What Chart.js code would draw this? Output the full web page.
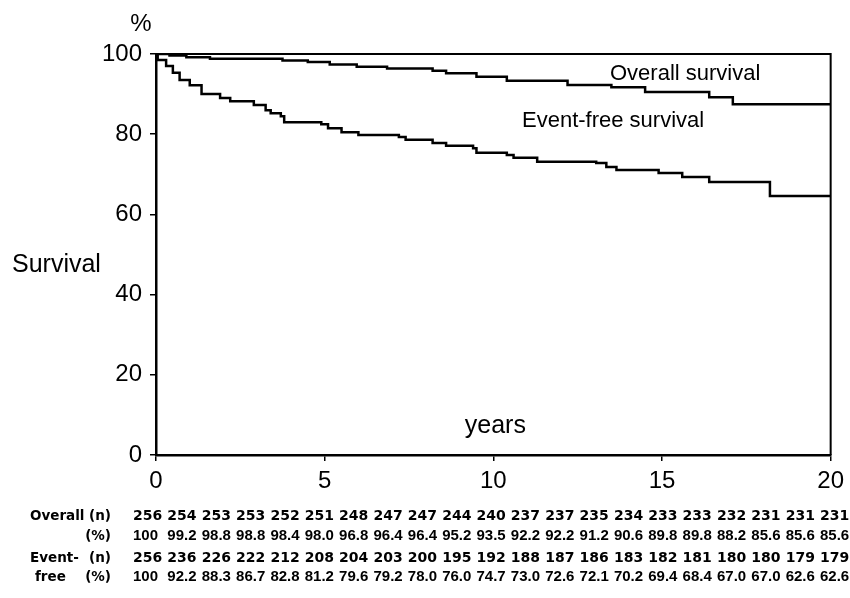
<!DOCTYPE html>
<html><head><meta charset="utf-8">
<script src="https://cdn.jsdelivr.net/npm/chart.js@4.4.0/dist/chart.umd.min.js"></script>
<style>html,body{margin:0;padding:0;background:#fff}#wrap{width:850px;height:598px;position:relative}</style>
</head><body><div id="wrap"><canvas id="c" width="850" height="598"></canvas></div>
<script>
// ---- data ----
const xTicks = [0, 5, 10, 15, 20];
const yTicks = [0, 20, 40, 60, 80, 100];
const overallTimes = [0, 0.4, 0.9, 1.6, 3.75, 4.5, 5.15, 5.95, 6.85, 8.2, 8.6, 9.5, 10.4, 12.2, 13.5, 14.5, 16.4, 17.1, 20];
const overallSurv  = [100, 99.6, 99.2, 98.8, 98.4, 98.0, 97.4, 96.8, 96.4, 95.8, 95.2, 94.3, 93.3, 92.3, 91.7, 90.5, 89.2, 87.5, 87.5];
const efsTimes = [0, 0.05, 0.3, 0.5, 0.7, 1.0, 1.35, 1.9, 2.2, 2.9, 3.25, 3.4, 3.7, 3.8, 4.9, 5.1, 5.5, 6.0, 7.2, 7.4, 8.2, 8.6, 9.4, 9.5, 10.4, 10.6, 11.3, 13.05, 13.35, 13.65, 14.9, 15.6, 16.4, 18.2, 20];
const efsSurv  = [100, 98.5, 97.0, 95.3, 93.5, 92.2, 90.0, 89.0, 88.2, 87.3, 86.0, 85.2, 84.5, 83.0, 82.5, 81.5, 80.5, 79.8, 79.3, 78.6, 77.8, 77.1, 76.5, 75.4, 74.8, 74.1, 73.1, 72.8, 71.8, 71.1, 70.3, 69.3, 68.1, 64.6, 64.6];
const overallN   = ["256","254","253","253","252","251","248","247","247","244","240","237","237","235","234","233","233","232","231","231","231"];
const overallPct = ["100","99.2","98.8","98.8","98.4","98.0","96.8","96.4","96.4","95.2","93.5","92.2","92.2","91.2","90.6","89.8","89.8","88.2","85.6","85.6","85.6"];
const efsN   = ["256","236","226","222","212","208","204","203","200","195","192","188","187","186","183","182","181","180","180","179","179"];
const efsPct = ["100","92.2","88.3","86.7","82.8","81.2","79.6","79.2","78.0","76.0","74.7","73.0","72.6","72.1","70.2","69.4","68.4","67.0","67.0","62.6","62.6"];

const toPts = (t, v) => t.map((x, i) => ({x: x, y: v[i]}));
const SANS = "'Liberation Sans', Arial, Helvetica, sans-serif";
const DV = "'DejaVu Sans', sans-serif";

const overlay = {
  id: 'overlay',
  afterDatasetsDraw(chart) {
    const ctx = chart.ctx, a = chart.chartArea, xs = chart.scales.x;
    ctx.save();
    // top & right frame
    ctx.strokeStyle = '#000'; ctx.lineWidth = 2;
    ctx.beginPath();
    ctx.moveTo(a.left, a.top); ctx.lineTo(a.right, a.top); ctx.lineTo(a.right, a.bottom);
    ctx.stroke();
    ctx.fillStyle = '#000';
    ctx.textBaseline = 'alphabetic';
    // axis annotations
    ctx.font = '24px ' + SANS; ctx.textAlign = 'center';
    ctx.fillText('%', 141, 31);
    ctx.font = '25px ' + SANS; ctx.textAlign = 'left';
    ctx.fillText('Survival', 12, 272);
    ctx.textAlign = 'center';
    ctx.fillText('years', xs.getPixelForValue(10) + 2, 433);
    ctx.font = '22px ' + SANS; ctx.textAlign = 'left';
    ctx.fillText('Overall survival', 610, 80);
    ctx.fillText('Event-free survival', 522, 127);
    // table
    const rows = [
      {l: 'Overall', lx: 30, u: '(n)', vals: overallN, y: 520, f: 'bold 14px ' + DV},
      {l: '', lx: 30, u: '(%)', vals: overallPct, y: 540, f: 'bold 15px ' + SANS},
      {l: 'Event-', lx: 30, u: '(n)', vals: efsN, y: 562, f: 'bold 14px ' + DV},
      {l: 'free', lx: 35, u: '(%)', vals: efsPct, y: 581, f: 'bold 15px ' + SANS}
    ];
    const step = (848 - 133 - 28) / (overallN.length - 1);
    rows.forEach(r => {
      ctx.font = 'bold 13.5px ' + DV;
      ctx.textAlign = 'left';
      if (r.l) ctx.fillText(r.l, r.lx, r.y);
      ctx.textAlign = 'right';
      ctx.fillText(r.u, 111, r.y);
      ctx.font = r.f; ctx.textAlign = 'left';
      r.vals.forEach((v, i) => ctx.fillText(v, 133 + i * step, r.y));
    });
    ctx.restore();
  }
};

new Chart(document.getElementById('c'), {
  type: 'line',
  data: {
    datasets: [
      {label: 'Overall survival', data: toPts(overallTimes, overallSurv), stepped: 'before',
       borderColor: '#000', borderWidth: 2.5, pointRadius: 0, fill: false},
      {label: 'Event-free survival', data: toPts(efsTimes, efsSurv), stepped: 'before',
       borderColor: '#000', borderWidth: 2.5, pointRadius: 0, fill: false}
    ]
  },
  options: {
    responsive: false, animation: false,
    layout: {padding: {left: 0, top: 54, right: 18, bottom: 0}},
    plugins: {legend: {display: false}, tooltip: {enabled: false}},
    scales: {
      x: {type: 'linear', min: 0, max: 20,
          afterBuildTicks: s => { s.ticks = xTicks.map(v => ({value: v})); },
          afterFit: s => { s.height = 143; },
          grid: {display: true, drawOnChartArea: false, drawTicks: true, tickLength: 6, color: '#000', lineWidth: 1.5},
          border: {display: true, color: '#000', width: 2.5},
          ticks: {color: '#000', padding: 6, maxRotation: 0, font: {family: SANS, size: 24}}},
      y: {type: 'linear', min: 0, max: 100,
          afterBuildTicks: s => { s.ticks = yTicks.map(v => ({value: v})); },
          afterFit: s => { s.width = 156; },
          grid: {display: true, drawOnChartArea: false, drawTicks: true, tickLength: 6, color: '#000', lineWidth: 1.5},
          border: {display: true, color: '#000', width: 2.5},
          ticks: {color: '#000', padding: 8, font: {family: SANS, size: 24}}}
    }
  },
  plugins: [overlay]
});
</script>
</body></html>
